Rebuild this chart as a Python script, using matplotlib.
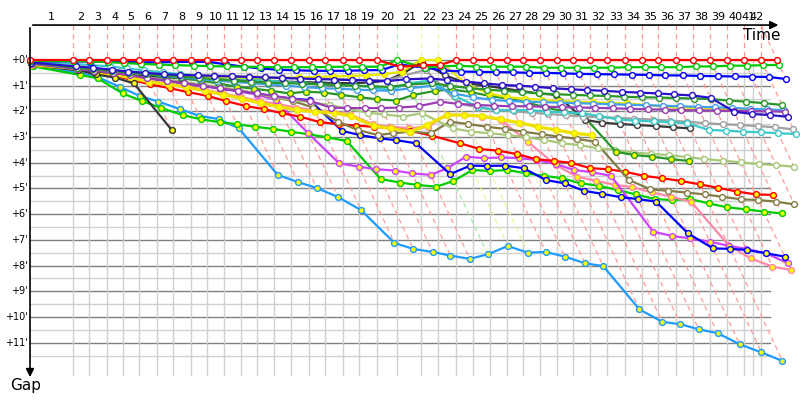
import matplotlib
matplotlib.use("Agg")
import matplotlib.pyplot as plt

# leader's lap times (minutes), lap 0 = start
lap_time = [0, 3.58, 4.92, 6.42, 7.75, 9.08, 10.58, 11.92, 13.42, 14.75, 16.17,
            17.58, 18.92, 20.33, 21.75, 23.25, 24.58, 26.08, 27.42, 28.92, 30.58,
            32.58, 34.0, 35.5, 36.92, 38.33, 39.75, 41.08, 42.5, 43.92, 45.25,
            46.67, 48.08, 49.58, 51.0, 52.33, 53.83, 55.25, 56.67, 58.08, 59.5,
            60.92, 62.25]
lap_labels = [str(i) for i in range(1, 43)]

# gap to leader (minutes) at the end of each lap, lap 0 first
red_w = [0, 0, 0, 0, 0, 0, 0, 0, 0, 0, 0, 0, 0, 0, 0, 0, 0, 0, 0, 0, 0.26,
         0.2, 0.19, 0, 0, 0, 0, 0, 0, 0, 0, 0, 0, 0, 0, 0, 0, 0, 0, 0, 0, 0, 0]
green_w = [.03, .04, .05, .08, .12, .15, .18, .2, .22, .24, .25, .26, .27, .28, .28, .28,
           .27, .26, .26, .26, 0, .3, .25, .22, .26, .26, .26, .26, .3, .3, .3,
           .3, .3, .28, .28, .28, .28, .25, .25, .22, .22, .2, .19]
blue_w = [.05, .05, .06, .07, .08, .09, .09, .08, .07, .07, .17, .26, .33, .38, .4, .42,
          .42, .42, .4, .39, .17, .3, .4, .45, .46, .47, .48, .5, .5, .52, .54,
          .55, .56, .57, .58, .6, .6, .62, .63, .64, .65, .66, .74]
navy_w = [.1, .25, .3, .38, .45, .5, .55, .58, .6, .62, .64, .66, .68, .7, .72, .74,
          .76, .78, .8, .82, .75, .72, .78, .84, .91, .97, 1.0, 1.04, 1.1, 1.14, 1.17,
          1.2, 1.24, 1.27, 1.3, 1.34, 1.38, 1.47, 2.01, 2.10, 2.14, 2.21]
dkgreen_w = [.1, .3, .35, .42, .5, .55, .6, .65, .7, .75, .8, .85, .88, .9, .92, .95,
             .97, 1.0, 1.02, 1.05, .95, .9, 1.0, 1.1, 1.15, 1.2, 1.25, 1.3, 1.33, 1.36, 1.38,
             1.4, 1.43, 1.45, 1.46, 1.48, 1.5, 1.52, 1.58, 1.62, 1.68, 1.75]
dkgreen_y = [.12, .3, .38, .45, .52, .6, .66, .72, .8, .91, 1.04, 1.12, 1.2, 1.3, 1.23, 1.27,
             1.36, 1.45, 1.53, 1.58, 1.36, 1.2, 1.15, 1.25, 1.4, 1.5, 1.65, 1.84, 2.0, 2.14, 3.57,
             3.70, 3.76, 3.86, 3.93]
purple_w = [.15, .35, .42, .5, .6, .7, .8, .9, 1.0, 1.1, 1.2, 1.3, 1.4, 1.5, 1.6, 1.85,
            1.87, 1.87, 1.87, 1.85, 1.8, 1.62, 1.71, 1.75, 1.78, 1.8, 1.8, 1.82, 1.83, 1.85, 1.86,
            1.88, 1.9, 1.92, 1.93, 1.95, 1.96, 1.97, 1.98, 1.99, 2.0, 2.01]
gray_w = [.15, .3, .35, .4, .45, .5, .55, .55, .6, .6, .62, .64, .66, .68, .7, .72,
          .74, .76, .78, .8, .6, .39, 1.69, 1.85, 1.95, 2.0, 2.05, 2.1, 2.15, 2.2, 2.22,
          2.25, 2.28, 2.32, 2.36, 2.4, 2.46, 2.5, 2.53, 2.57, 2.62, 2.70]
cyan_w = [.08, .15, .2, .25, .33, .4, .48, .55, .6, .65, .7, .75, .8, .85, .9, .95,
          .98, 1.0, 1.05, 1.17, .91, .8, 1.4, 1.82, 1.95, 1.95, 1.95, 2.01, 2.04, 2.07, 2.18,
          2.31, 2.36, 2.39, 2.42, 2.46, 2.72, 2.75, 2.79, 2.81, 2.85, 2.88]
black_w = [.18, .4, .45, .5, .55, .6, .65, .7, .72, .75, .78, .8, .82, .84, .86, .88,
           .9, .9, .88, .8, .52, .07, .6, .9, 1.0, 1.1, 1.21, 1.3, 1.36, 2.33, 2.44,
           2.49, 2.53, 2.57, 2.62, 2.66]
ltblue_w = [.1, .28, .33, .4, .48, .55, .62, .68, .74, .8, .85, .9, .95, 1.0, 1.05, 1.1,
            1.12, 1.15, 1.18, 1.2, 1.1, 1.0, 1.3, 1.45, 1.55, 1.6, 1.62, 1.64, 1.66, 1.68, 1.7,
            1.72, 1.74, 1.76, 1.78, 1.8, 1.82, 1.84, 1.86, 1.9, 1.92, 1.95]
lemon_y = [.2, .35, .4, .45, .5, .55, .6, .62, .64, .66, .68, .7, .7, .7, .68, .66,
           .64, .62, .6, .55, .45, 0, 0, .97, 1.3, 1.45, 1.5, 1.55, 1.6, 1.62, 1.65,
           1.67, 1.69, 1.75, 1.82, 1.85, 1.87, 1.9, 1.92, 1.95, 1.97, 2.0]
yellow_y = [.2, .35, .45, .55, .7, .85, .95, 1.05, 1.2, 1.35, 1.5, 1.69, 1.82, 1.95, 2.01, 2.05,
            2.18, 2.57, 2.66, 2.79, 2.53, 2.14, 2.14, 2.18, 2.31, 2.44, 2.6, 2.72, 2.85, 2.92]
pink_y = [.2, .33, .43, .55, .68, .82, .92, 1.02, 1.15, 1.3, 1.45, 1.6, 1.72, 1.85, 1.95, 2.0,
          2.12, 2.5, 2.6, 2.65, 2.6, 2.14, 2.14, 2.2, 2.33, 3.2, 4.1, 4.54, 4.71, 4.86, 4.95,
          5.15, 5.32, 5.51, 7.2, 7.72, 8.04, 8.17]
olive_w = [.15, .3, .4, .5, .6, .7, .8, .9, 1.0, 1.1, 1.2, 1.3, 1.45, 1.6, 1.85, 2.4,
           2.72, 2.92, 2.85, 2.79, 2.85, 2.4, 2.49, 2.6, 2.68, 2.79, 2.89, 2.98, 3.07, 3.18, 4.67,
           5.03, 5.09, 5.16, 5.23, 5.32, 5.42, 5.45, 5.51, 5.62]
ltolive_w = [.15, .3, .38, .45, .55, .65, .75, .85, .95, 1.05, 1.15, 1.3, 1.45, 1.55, 1.65, 1.75,
             1.9, 2.05, 2.12, 2.2, 2.07, 2.66, 2.79, 2.85, 2.92, 3.01, 3.11, 3.24, 3.31, 3.44, 3.5,
             3.6, 3.65, 3.7, 3.78, 3.85, 3.92, 3.98, 4.05, 4.09, 4.15]
red_y = [.18, .35, .45, .6, .78, .95, 1.1, 1.25, 1.4, 1.6, 1.79, 1.91, 2.07, 2.21, 2.42, 2.5,
         2.55, 2.6, 2.65, 2.75, 2.95, 3.24, 3.46, 3.53, 3.66, 3.86, 3.93, 4.0, 4.21, 4.25, 4.35,
         4.51, 4.6, 4.71, 4.84, 4.97, 5.12, 5.23, 5.25]
blue_y = [.12, .3, .4, .5, .6, .7, .8, .9, 1.0, 1.1, 1.2, 1.3, 1.42, 1.5, 1.56, 2.76,
          2.92, 3.05, 3.12, 3.24, 4.44, 4.11, 4.12, 4.11, 4.21, 4.67, 4.8, 5.09, 5.21, 5.34, 5.41,
          5.51, 6.74, 7.33, 7.35, 7.39, 7.52, 7.65]
violet_y = [.15, .32, .42, .52, .62, .72, .82, .92, 1.02, 1.12, 1.22, 1.35, 1.56, 2.85, 4.02, 4.15,
            4.25, 4.3, 4.41, 4.47, 4.21, 3.76, 3.82, 3.79, 3.82, 3.89, 4.05, 4.28, 4.37, 4.51, 6.68,
            6.85, 6.94, 7.07, 7.23, 7.35, 7.52, 7.91]
green_y = [.25, .58, .71, 1.3, 1.6, 1.87, 2.14, 2.31, 2.42, 2.5, 2.6, 2.68, 2.79, 2.89, 3.01, 3.15,
           4.63, 4.77, 4.86, 4.93, 4.71, 4.28, 4.32, 4.28, 4.41, 4.51, 4.6, 4.8, 4.89, 5.06, 5.23,
           5.41, 5.45, 5.41, 5.58, 5.73, 5.81, 5.9, 5.97]
ltblue_y = [.22, .5, .65, 1.04, 1.4, 1.62, 1.91, 2.17, 2.3, 2.66, 4.47, 4.75, 4.98, 5.33, 5.84, 7.12,
            7.35, 7.47, 7.61, 7.74, 7.56, 7.24, 7.5, 7.47, 7.65, 7.91, 8.02, 9.7, 10.19, 10.28, 10.48,
            10.63, 11.06, 11.38, 11.71]
black_y = [.2, .39, .56, .69, .91, 2.72]

# (gaps, line colour, marker face, line width) - drawn bottom to top
series = [
    (ltblue_y, '#1e9bff', '#ffff00', 1.6),
    (green_y, '#00cc00', '#ffff00', 1.6),
    (pink_y, '#ff88a8', '#ffff00', 1.6),
    (violet_y, '#cc44ff', '#ffff00', 1.6),
    (blue_y, '#0000ff', '#ffff00', 1.6),
    (red_y, '#ff0000', '#ffff00', 1.6),
    (olive_w, '#847c44', 'white', 1.6),
    (ltolive_w, '#a8c878', 'white', 1.6),
    (yellow_y, '#f0e000', '#ffff00', 2.4),
    (black_y, '#383838', '#ffff00', 1.6),
    (dkgreen_y, '#2a962a', '#ffff00', 1.6),
    (black_w, '#383838', 'white', 1.6),
    (gray_w, '#a0a0a0', 'white', 1.6),
    (cyan_w, '#3cc8c8', 'white', 1.6),
    (lemon_y, '#e6e600', '#ffff00', 1.6),
    (ltblue_w, '#40a0f0', 'white', 1.6),
    (purple_w, '#9a3cb4', 'white', 1.6),
    (dkgreen_w, '#2a962a', 'white', 1.6),
    (navy_w, '#2810c8', 'white', 1.6),
    (blue_w, '#0000ff', 'white', 1.6),
    (green_w, '#00c800', 'white', 1.6),
    (red_w, '#ff0000', 'white', 1.6),
]

top = -1.36      # position of the time axis
bottom = 12.26
x_end = 61.67

fig = plt.figure(figsize=(8, 4), dpi=100)
ax = fig.add_axes([0, 0, 1, 1])
ax.set_xlim(-2.5, 64.17)
ax.set_ylim(13.23, -2.335)
ax.axis('off')

# grid
for m in range(12):
    ax.plot([0, x_end], [m, m], color='#808080', lw=1.0, zorder=1)
    ax.plot([0, x_end], [m + 0.5, m + 0.5], color='#d0d0d0', lw=1.0, zorder=1)
grid_x = lap_time[1:41] + [60.25, lap_time[41]]
for gx in grid_x:
    ax.plot([gx, gx], [0, bottom], color='#d0d0d0', lw=1.0, zorder=1)

# lap lines: vertical above the leader, then diagonal through every car on that lap
lap_col = {20: '#a8e8a8', 21: '#f0f0a0', 22: '#f0f0a0'}
for n in range(1, 43):
    gmax = max(s[0][n] for s in series if len(s[0]) > n)
    c = lap_col.get(n, '#ff9a9a')
    x0 = lap_time[n] if n < 42 else lap_time[41]
    ax.plot([x0, lap_time[n]], [top, 0], color=c, lw=0.9, ls=(0, (4, 3)), zorder=2)
    ax.plot([lap_time[n], lap_time[n] + gmax], [0, gmax], color=c, lw=0.9,
            ls=(0, (4, 3)), zorder=2)

# drivers
for gaps, col, face, lw in series:
    xs = [lap_time[i] + g for i, g in enumerate(gaps)]
    ax.plot(xs, gaps, '-o', color=col, lw=lw, ms=4.2, mfc=face, mec=col, mew=1.0, zorder=3)

# axes with arrows
ax.annotate('', xy=(62.6, top), xytext=(0, top),
            arrowprops=dict(arrowstyle='-|>', color='black', lw=1.2, mutation_scale=12))
ax.annotate('', xy=(0, 12.45), xytext=(0, top),
            arrowprops=dict(arrowstyle='-|>', color='black', lw=1.2, mutation_scale=12))
ax.text(61.0, -0.95, 'Time', fontsize=11, ha='center', va='center')
ax.text(-0.4, 12.65, 'Gap', fontsize=11, ha='center', va='center')

# lap numbers centred on each lap (the last two crowd together, as in the source)
edges = [0] + grid_x
for i, lab in enumerate(lap_labels):
    ax.text((edges[i] + edges[i + 1]) / 2, -1.68, lab, fontsize=8, ha='center', va='center')

for m in range(12):
    ax.text(-0.2, m, "+%d'" % m, fontsize=7, ha='right', va='center')

fig.savefig('out.png', dpi=100)
